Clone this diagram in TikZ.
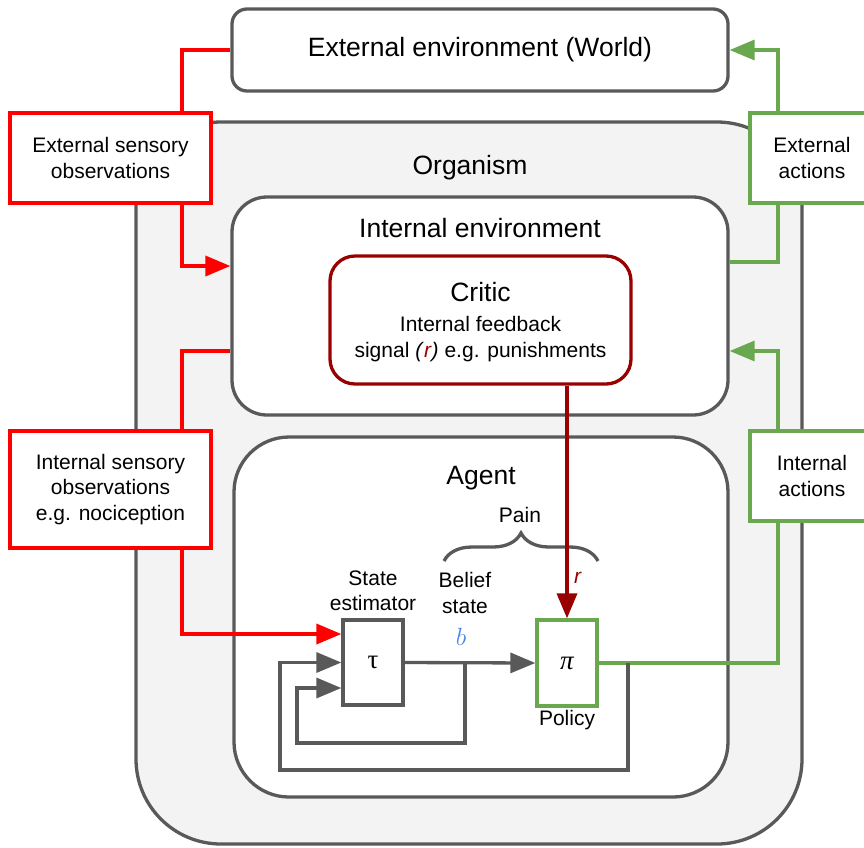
\documentclass[tikz,border=0pt]{standalone}
\usepackage{fontspec}
\setmainfont{Liberation Sans}
\newfontfamily\grkfont{Liberation Serif}
\usetikzlibrary{arrows.meta,decorations.pathreplacing}
\definecolor{dgray}{HTML}{595959}
\definecolor{ored}{HTML}{FF0000}
\definecolor{dred}{HTML}{990000}
\definecolor{ggreen}{HTML}{6AA84F}
\definecolor{bblue}{HTML}{4A86E8}
\definecolor{orgfill}{HTML}{F3F3F3}
\begin{document}
\begin{tikzpicture}[x=1pt,y=-1pt,
  big/.style={font=\fontsize{26.5}{31}\selectfont},
  small/.style={font=\fontsize{21}{25.5}\selectfont, align=center},
  env/.style={draw=dgray, line width=3.3pt, fill=white, inner sep=0pt},
  redbox/.style={draw=ored, line width=3.6pt, fill=white, small, inner sep=0pt},
  greenbox/.style={draw=ggreen, line width=3.3pt, fill=white, small, inner sep=0pt},
  redline/.style={draw=ored, line width=3.6pt},
  greenline/.style={draw=ggreen, line width=3.3pt},
  grayline/.style={draw=dgray, line width=3.3pt},
  arrowtip/.style={-{Triangle[length=25pt,width=20pt]}},
  mathtxt/.style={font=\fontsize{27}{30}\selectfont\grkfont},
]
\useasboundingbox (0,0) rectangle (864,847);
% environments
\node[env, big, rounded corners=15pt, minimum width=496pt, minimum height=82pt] (world) at (480,50) {External environment (World)};
\node[env, fill=orgfill, rounded corners=85pt, minimum width=666pt, minimum height=722pt] (org) at (469,483) {};
\node[big] (orgtxt) at (470,168) {Organism};
\node[env, rounded corners=35pt, minimum width=496pt, minimum height=218pt] (ienv) at (480,306) {};
\node[big] (ienvtxt) at (480,228) {Internal environment};
\node[env, rounded corners=55pt, minimum width=494pt, minimum height=360pt] (agent) at (481,617) {};
\node[big] (agenttxt) at (481,478) {Agent};
\node[draw=dred, line width=3.3pt, fill=white, rounded corners=25pt, minimum width=301pt, minimum height=128pt] (critic) at (480.5,320) {};
\node[big] (critictxt) at (480.5,292) {Critic};
\node[small] (critictxt2) at (480.5,339) {Internal feedback\\signal \textit{(}\textcolor{dred}{\textit{r}}\textit{)} e.g. punishments};
% agent internals
\node[draw=dgray, line width=3.3pt, fill=white, minimum width=60pt, minimum height=85pt, mathtxt] (tau) at (373,662.5) {τ};
\node[draw=ggreen, line width=3.3pt, fill=white, minimum width=60pt, minimum height=86pt, mathtxt] (pi) at (567,663) {\itshape π};
\node[small] (stlbl) at (373,591) {State\\estimator};
\node[small] (bslbl) at (465,593) {Belief\\state};
\node[font=\fontsize{26}{28}\selectfont, text=bblue] (blbl) at (461,637) {$b$};
\node[small, text=dred] (rlbl) at (578,578) {\textit{r}};
\node[small] (pol) at (567,720) {Policy};
\node[small] (pain) at (520,515) {Pain};
\draw[dgray, line width=3.3pt, decorate, decoration={brace, amplitude=28pt}] (444,561) -- (598,561);
% side boxes
\node[redbox, minimum width=201pt, minimum height=90pt] (esens) at (110.5,158) {External sensory\\observations};
\node[redbox, minimum width=201pt, minimum height=117pt] (isens) at (110.5,489.5) {Internal sensory\\observations\\e.g. nociception};
\node[greenbox, minimum width=124pt, minimum height=90pt] (eact) at (812,158) {External\\actions};
\node[greenbox, minimum width=124pt, minimum height=90pt] (iact) at (812,476) {Internal\\actions};
% routing coordinates
\coordinate (rx) at (182,0);
\coordinate (gx) at (778,0);
\coordinate (bsplit) at (465,662.5);
\coordinate (psplit) at (628,663);
% red connectors
\draw[redline] (world.west) -| (esens.north -| rx);
\draw[redline, arrowtip] (esens.south -| rx) |- (ienv.west |- 0,266);
\draw[redline] (ienv.west |- 0,351) -| (isens.north -| rx);
\draw[redline, arrowtip] (isens.south -| rx) |- (tau.west |- 0,634);
% green connectors
\draw[greenline] (ienv.east |- 0,262) -| (eact.south -| gx);
\draw[greenline, arrowtip] (eact.north -| gx) |- (world.east);
\draw[greenline] (pi.east) -| (iact.south -| gx);
\draw[greenline, arrowtip] (iact.north -| gx) |- (ienv.east |- 0,351);
% gray connectors
\draw[grayline, arrowtip] (tau.east) -- (pi.west);
\draw[grayline, arrowtip] (bsplit) -- (465,743) -- (297,743) -- (297,688) -- (tau.west |- 0,688);
\draw[grayline, arrowtip] (psplit) -- (628,770) -- (280,770) -- (280,662.5) -- (tau.west);
% critic signal
\draw[dred, line width=3.6pt, arrowtip] (critic.south -| pi.north) -- (pi.north);
\end{tikzpicture}
\end{document}
